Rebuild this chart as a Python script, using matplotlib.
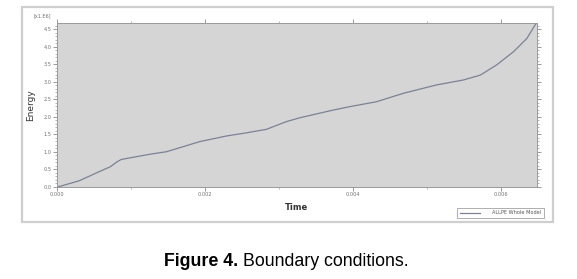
import matplotlib
matplotlib.use("Agg")
import matplotlib.pyplot as plt
from matplotlib.patches import Rectangle
from matplotlib.ticker import MultipleLocator

# ============
# DATA
# ============
time = [0.0, 0.00004, 0.00030, 0.00057, 0.00072, 0.00081, 0.00087, 0.00126, 0.00148,
        0.00193, 0.00229, 0.00256, 0.00283, 0.00310, 0.00328, 0.00373, 0.00396,
        0.00432, 0.00468, 0.00513, 0.00549, 0.00572, 0.00594, 0.00617, 0.00635,
        0.00646, 0.00648]
energy = [0.0, 0.01, 0.17, 0.43, 0.57, 0.71, 0.78, 0.93, 1.00,
          1.29, 1.45, 1.54, 1.64, 1.86, 1.97, 2.19, 2.29,
          2.43, 2.67, 2.91, 3.05, 3.19, 3.48, 3.86, 4.24,
          4.62, 4.68]
x_ticks = [0.000, 0.002, 0.004, 0.006]
x_tick_labels = ["0.000", "0.002", "0.004", "0.006"]
y_ticks = [0.0, 0.5, 1.0, 1.5, 2.0, 2.5, 3.0, 3.5, 4.0, 4.5]
y_tick_labels = ["0.0", "0.5", "1.0", "1.5", "2.0", "2.5", "3.0", "3.5", "4.0", "4.5"]
series_label = "ALLPE Whole Model"

W, H = 577, 279
fig = plt.figure(figsize=(W / 100, H / 100), dpi=100)
fig.patch.set_facecolor("white")

# outer screenshot frame
fig.patches.append(Rectangle((22 / W, 1 - 222 / H), 531 / W, 215 / H,
                             transform=fig.transFigure, fill=False,
                             edgecolor="#cfcfcf", linewidth=1.6))

ax = fig.add_axes([57 / W, 1 - 186.7 / H, (536.5 - 57) / W, (186.7 - 23) / H])
ax.set_facecolor("#d5d5d5")
line, = ax.plot(time, energy, color="#7c8196", linewidth=0.9, label=series_label)

ax.set_xlim(0, 0.00648)
ax.set_ylim(0, 4.68)
ax.set_xticks(x_ticks)
ax.set_xticklabels(x_tick_labels)
ax.set_yticks(y_ticks)
ax.set_yticklabels(y_tick_labels)
ax.xaxis.set_minor_locator(MultipleLocator(0.001))
ax.yaxis.set_minor_locator(MultipleLocator(0.1))
ax.tick_params(axis="both", which="major", labelsize=3.6, labelcolor="#707070",
               color="#8a8a8a", length=3, width=0.6, direction="out", pad=1)
ax.tick_params(axis="both", which="minor", color="#9a9a9a", length=1.5, width=0.5,
               direction="out")
ax.tick_params(top=True, right=True, which="both")
for s in ax.spines.values():
    s.set_color("#9a9a9a")
    s.set_linewidth(0.7)

ax.set_xlabel("Time", fontsize=6, fontweight="bold", color="#333333", labelpad=4)
ax.set_ylabel("Energy", fontsize=6.5, color="#333333", labelpad=6)
fig.text(42 / W, 1 - 16 / H, "[x1.E6]", fontsize=3.5, color="#707070",
         ha="center", va="center")

leg = fig.legend(handles=[line], loc="center",
                 bbox_to_anchor=(500.5 / W, 1 - 213 / H), fontsize=3.6,
                 frameon=True, fancybox=False, edgecolor="#8a8a8a",
                 handlelength=4, borderpad=0.5, handletextpad=2.5)
leg.get_frame().set_linewidth(0.6)
for t in leg.get_texts():
    t.set_color("#555555")

# caption
fig.text(238 / W, 1 - 261 / H, "Figure 4.", fontsize=12.8, fontweight="bold",
         ha="right", va="center", family="Liberation Sans")
fig.text(243 / W, 1 - 261 / H, "Boundary conditions.", fontsize=12.8,
         ha="left", va="center", family="Liberation Sans")

fig.savefig("out.png", dpi=100)
